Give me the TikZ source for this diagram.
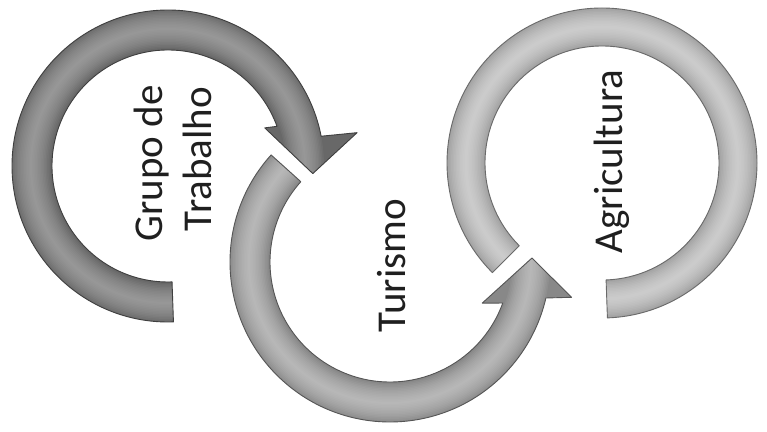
\documentclass[tikz,border=0pt]{standalone}
\usepackage{fontspec}
\setmainfont{Carlito}
\newcommand\shpA{(272:156) arc[start angle=272,end angle=11,radius=156] -- (10:192) -- (-3:145) -- (21.5:104) -- (20:116) arc[start angle=20,end angle=272,radius=116] -- cycle}
\newcommand\shpB{(138:160) arc[start angle=138,end angle=347,radius=160] -- (349:185) -- (1.6:142) -- (336:101) -- (340:120) arc[start angle=340,end angle=138,radius=120] -- cycle}
\newcommand\shpC{(225:155) arc[start angle=225,end angle=-88,radius=155] -- (-88:117) arc[start angle=-88,end angle=225,radius=117] -- cycle}
\definecolor{gA}{HTML}{686868}
\definecolor{gAl}{HTML}{B0B0B0}
\definecolor{gAe}{HTML}{3F3F3F}
\definecolor{gB}{HTML}{888888}
\definecolor{gBl}{HTML}{D0D0D0}
\definecolor{gBe}{HTML}{555555}
\definecolor{gC}{HTML}{A0A0A0}
\definecolor{gCl}{HTML}{E6E6E6}
\definecolor{gCe}{HTML}{6A6A6A}
\begin{document}
\begin{tikzpicture}[x=1pt,y=1pt,
  lbl/.style={rotate=90, anchor=base, inner sep=0pt, font=\fontsize{41}{49}\selectfont, text=black!88},
  rim/.style={draw=#1, line width=0.9pt, line join=round},
  glow/.style={line width=#1, line cap=butt, opacity=0.09}]
\useasboundingbox (0,0) rectangle (767,431);
\fill[white] (0,0) rectangle (767,431);

% left arrow
\begin{scope}[shift={(168,265)}]
  \fill[gA] \shpA;
  \begin{scope}
    \clip \shpA;
    \foreach \w in {38,35,...,2}
      \draw[glow=\w, gAl] (272:137) arc[start angle=272,end angle=-4,radius=137];
  \end{scope}
  \draw[rim=gAe] \shpA;
\end{scope}

% middle arrow
\begin{scope}[shift={(390,169)}]
  \fill[gB] \shpB;
  \begin{scope}
    \clip \shpB;
    \foreach \w in {38,35,...,2}
      \draw[glow=\w, gBl] (138:141) arc[start angle=138,end angle=362,radius=141];
  \end{scope}
  \draw[rim=gBe] \shpB;
\end{scope}

% right arc
\begin{scope}[shift={(602,268)}]
  \fill[gC] \shpC;
  \begin{scope}
    \clip \shpC;
    \foreach \w in {36,33,...,2}
      \draw[glow=\w, gCl] (225:136) arc[start angle=225,end angle=-88,radius=136];
  \end{scope}
  \draw[rim=gCe] \shpC;
\end{scope}

\node[lbl] (grupo) at (162,267.5) {Grupo de};
\node[lbl] (trab) at (211,272) {Trabalho};
\node[lbl] (tur) at (405,165.5) {Turismo};
\node[lbl] (agr) at (622,269.5) {Agricultura};
\end{tikzpicture}
\end{document}
